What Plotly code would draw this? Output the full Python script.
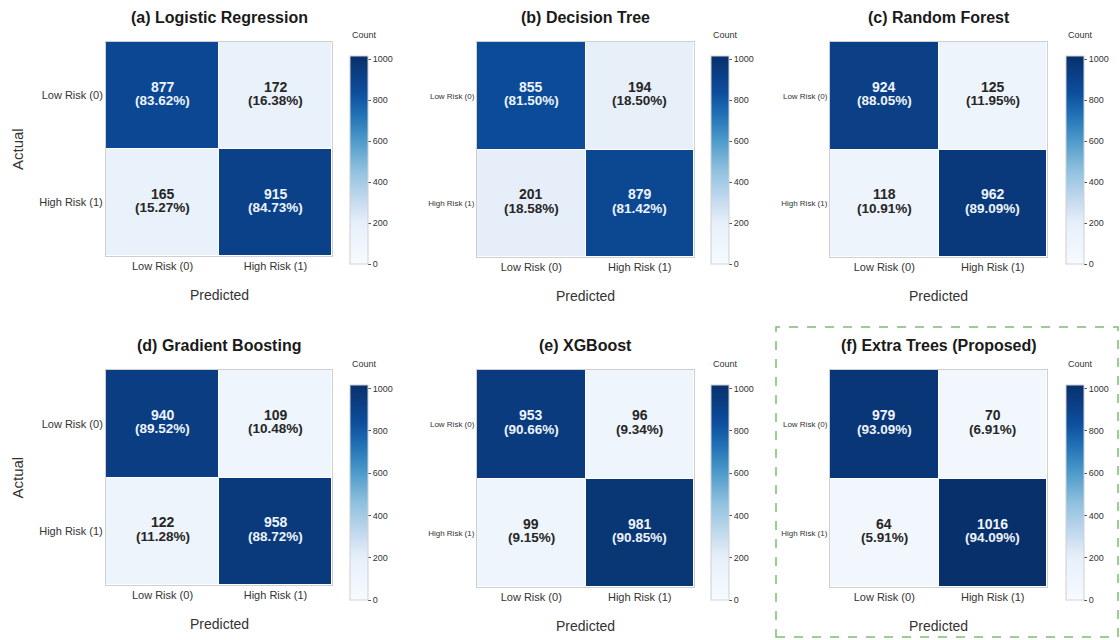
import plotly.graph_objects as go

W, H = 1120, 640

class_labels = ["Low Risk (0)", "High Risk (1)"]

titles = [
    "(a) Logistic Regression",
    "(b) Decision Tree",
    "(c) Random Forest",
    "(d) Gradient Boosting",
    "(e) XGBoost",
    "(f) Extra Trees (Proposed)",
]

lr_counts = [[877, 172], [165, 915]]
lr_pct = [[83.62, 16.38], [15.27, 84.73]]
dt_counts = [[855, 194], [201, 879]]
dt_pct = [[81.50, 18.50], [18.58, 81.42]]
rf_counts = [[924, 125], [118, 962]]
rf_pct = [[88.05, 11.95], [10.91, 89.09]]
gb_counts = [[940, 109], [122, 958]]
gb_pct = [[89.52, 10.48], [11.28, 88.72]]
xgb_counts = [[953, 96], [99, 981]]
xgb_pct = [[90.66, 9.34], [9.15, 90.85]]
et_counts = [[979, 70], [64, 1016]]
et_pct = [[93.09, 6.91], [5.91, 94.09]]

cbar_ticks = [0, 200, 400, 600, 800, 1000]

counts = [lr_counts, dt_counts, rf_counts, gb_counts, xgb_counts, et_counts]
pcts = [lr_pct, dt_pct, rf_pct, gb_pct, xgb_pct, et_pct]

zmax = max(max(max(r) for r in c) for c in counts)

# pixel layout of each panel: heatmap box (x0, x1, y0, y1), colorbar (left, top, len)
heat_boxes = [
    (106, 332, 42, 256), (477, 694, 42, 257), (830, 1047, 42, 257),
    (106, 332, 370, 585), (477, 694, 370, 587), (830, 1047, 370, 587),
]
cbar_boxes = [
    (350, 56, 208), (711, 56, 208), (1066, 56, 208),
    (350, 385, 215), (711, 385, 215), (1066, 385, 215),
]
ytick_sizes = [11, 8, 8, 11, 8, 8]

blues = [
    [0.0, "#f7fbff"], [0.2, "#e6eff9"], [0.3, "#c6dbef"], [0.45, "#8fc1de"],
    [0.6, "#4a98c9"], [0.72, "#2171b5"], [0.82, "#0d4f9e"], [0.9, "#0b4189"],
    [1.0, "#08306b"],
]

FONT = "Liberation Sans, Arial, sans-serif"

fig = go.Figure()
annotations = []

def px_x(v):
    return v / W

def px_y(v):
    return 1 - v / H

for i in range(6):
    n = i + 1
    xa = "x" if n == 1 else f"x{n}"
    ya = "y" if n == 1 else f"y{n}"
    x0, x1, y0, y1 = heat_boxes[i]
    cl, ct, clen = cbar_boxes[i]

    fig.add_trace(go.Heatmap(
        z=counts[i], x=class_labels, y=class_labels,
        xaxis=xa, yaxis=ya,
        colorscale=blues, zmin=0, zmax=zmax,
        xgap=1, ygap=1,
        showscale=True,
        colorbar=dict(
            x=px_x(cl), xanchor="left", xref="paper",
            y=px_y(ct), yanchor="top", yref="paper",
            xpad=0, ypad=0,
            len=clen, lenmode="pixels",
            thickness=18, thicknessmode="pixels",
            outlinewidth=1, outlinecolor="#d0d0d0",
            tickvals=cbar_ticks, ticks="outside", ticklen=3,
            tickcolor="#555", tickfont=dict(size=9, color="#333", family=FONT),
        ),
        hoverinfo="skip",
    ))

    xkey = "xaxis" if n == 1 else f"xaxis{n}"
    ykey = "yaxis" if n == 1 else f"yaxis{n}"
    fig.update_layout(**{
        xkey: dict(
            domain=[px_x(x0), px_x(x1)], anchor=ya,
            showline=True, mirror=True, linecolor="#cfcfcf", linewidth=1,
            ticks="", showgrid=False, zeroline=False,
            tickfont=dict(size=11, color="#333", family=FONT),
        ),
        ykey: dict(
            domain=[px_y(y1), px_y(y0)], anchor=xa,
            autorange="reversed",
            showline=True, mirror=True, linecolor="#cfcfcf", linewidth=1,
            ticks="", showgrid=False, zeroline=False,
            tickfont=dict(size=ytick_sizes[i], color="#333", family=FONT),
        ),
    })

    # cell labels: count above, row percentage below
    for r in range(2):
        for c in range(2):
            v = counts[i][r][c]
            dark = v / zmax > 0.5
            col = "#eef4fc" if dark else "#262626"
            annotations.append(dict(
                x=class_labels[c], y=class_labels[r], xref=xa, yref=ya,
                text=f"<b>{v}</b>", showarrow=False, yshift=9,
                font=dict(size=14, color=col, family=FONT),
            ))
            annotations.append(dict(
                x=class_labels[c], y=class_labels[r], xref=xa, yref=ya,
                text=f"<b>({pcts[i][r][c]:.2f}%)</b>", showarrow=False, yshift=-5,
                font=dict(size=13.5, color=col, family=FONT),
            ))

    cx = (x0 + x1) / 2
    # panel title
    annotations.append(dict(
        x=px_x(cx), y=px_y(y0 - 25), xref="paper", yref="paper",
        text=f"<b>{titles[i]}</b>", showarrow=False,
        font=dict(size=16, color="#1a1a1a", family=FONT),
        xanchor="center", yanchor="middle",
    ))
    # x axis title
    annotations.append(dict(
        x=px_x(cx), y=px_y(y1 + 39), xref="paper", yref="paper",
        text="Predicted", showarrow=False,
        font=dict(size=14, color="#333", family=FONT),
        xanchor="center", yanchor="middle",
    ))
    # colorbar title
    annotations.append(dict(
        x=px_x(cl + 14), y=px_y(ct - 21), xref="paper", yref="paper",
        text="Count", showarrow=False,
        font=dict(size=9, color="#333", family=FONT),
        xanchor="center", yanchor="middle",
    ))
    # y axis title on the left column only
    if i in (0, 3):
        annotations.append(dict(
            x=px_x(17), y=px_y((y0 + y1) / 2), xref="paper", yref="paper",
            text="Actual", showarrow=False, textangle=-90,
            font=dict(size=15, color="#333", family=FONT),
            xanchor="center", yanchor="middle",
        ))

# highlight frame around the proposed model
fig.add_shape(
    type="rect", xref="paper", yref="paper",
    x0=px_x(776), x1=px_x(1118), y0=px_y(637), y1=px_y(327),
    line=dict(color="#7cbf6e", width=1.5, dash="dash"),
    fillcolor="rgba(0,0,0,0)",
)

fig.update_layout(
    width=W, height=H,
    margin=dict(l=0, r=0, t=0, b=0),
    paper_bgcolor="white", plot_bgcolor="white",
    font=dict(family=FONT, color="#333"),
    annotations=annotations,
)

fig.write_html("out.html")
